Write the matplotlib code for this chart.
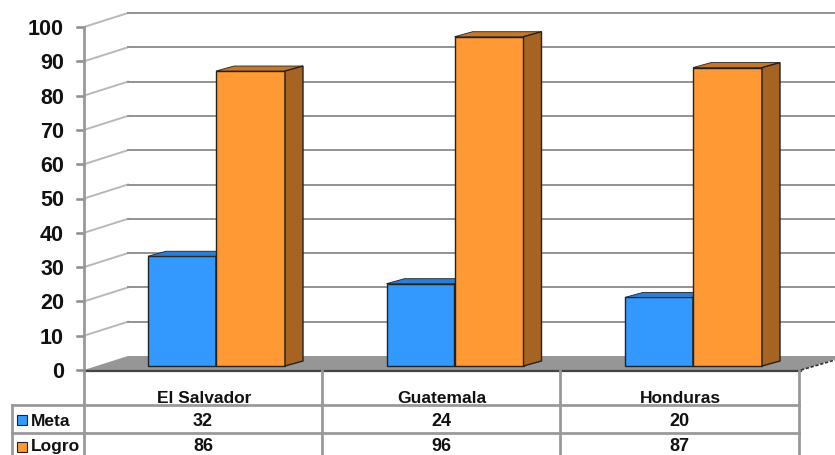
import matplotlib
matplotlib.use('Agg')
import matplotlib.pyplot as plt
from matplotlib.patches import Polygon, Rectangle

categories = ['El Salvador', 'Guatemala', 'Honduras']
meta = [32, 24, 20]
logro = [86, 96, 87]
ticks = [0, 10, 20, 30, 40, 50, 60, 70, 80, 90, 100]

plt.rcParams['font.family'] = ['Liberation Sans', 'DejaVu Sans']
plt.rcParams['font.weight'] = 'bold'

W, H = 835, 456
Y0, PX = 371, 3.43      # pixel of value 0, pixels per unit
BASE = 4 / PX           # bars stand a little behind the axis line
DX, DY = 18, 5 / PX     # depth of the bars
WX, WY = 44, 14 / PX    # depth of the walls
GREY = '#999999'
DARK = '#222222'
TEXT_DROP = 1.5 / PX    # text sits slightly lower than va=center gives

fig = plt.figure(figsize=(8.35, 4.56), dpi=100)
ax = fig.add_axes([0, 0, 1, 1])
ax.set_xlim(0, W)
ax.set_ylim((Y0 - H) / PX, Y0 / PX)
ax.axis('off')

# floor
ax.add_patch(Polygon([(84, 0), (84 + WX, WY), (845, WY), (801, 0)],
                     facecolor='#969696', edgecolor='none', zorder=1))
ax.plot([801, 835], [0, 10 / PX], color='#333333', lw=1.2, ls=(0, (2, 1)), zorder=1)

# walls
for t in ticks:
    if t > 0:
        ax.plot([84, 84 + WX], [t, t + WY], color='#b8b8b8', lw=1.4, zorder=1)
        ax.plot([84 + WX, W], [t + WY, t + WY], color='#939393', lw=1.4, zorder=1)
    ax.plot([77, 84], [t, t], color='#8c8c8c', lw=1.8, zorder=2)
    ax.text(64, t - TEXT_DROP, str(t), ha='right', va='center', fontsize=15.5, color='#111111')
ax.plot([84, 84], [0, 100], color=GREY, lw=2, zorder=2)


def bar3d(x, w, v, face, top, side, z):
    ax.bar(x, v, width=w, bottom=BASE, align='edge', color=face,
           edgecolor=DARK, linewidth=1, zorder=z)
    y1 = v + BASE
    ax.add_patch(Polygon([(x, y1), (x + DX, y1 + DY), (x + w + DX, y1 + DY), (x + w, y1)],
                         facecolor=top, edgecolor=DARK, lw=0.6, zorder=z))
    ax.add_patch(Polygon([(x + w, BASE), (x + w + DX, BASE + DY), (x + w + DX, y1 + DY), (x + w, y1)],
                         facecolor=side, edgecolor=DARK, lw=1, zorder=z))


col_left = [84, 322, 560]
col_w = 238
for i, cat in enumerate(categories):
    x0 = 148 + i * 238.5
    bar3d(x0, 68, meta[i], '#3399ff', '#2a7fd4', '#2a7fd4', 3)
    bar3d(x0 + 68, 69, logro[i], '#ff9933', '#c4782c', '#a66321', 4)


def py(p):
    # pixel row to value axis
    return (Y0 - p) / PX


# data table
ax.plot([84, 801], [py(372), py(372)], color='#444444', lw=1.6, zorder=2)
ax.plot([12, 799], [py(406), py(406)], color=GREY, lw=2, zorder=2)
ax.plot([12, 799], [py(434), py(434)], color=GREY, lw=2, zorder=2)
ax.plot([12, 12], [py(406), py(456)], color=GREY, lw=2, zorder=2)
for x in [84, 322, 560, 799]:
    ax.plot([x, x], [py(372), py(456)], color=GREY, lw=2, zorder=2)

rows = [('Meta', meta, '#3399ff', 421, 422), ('Logro', logro, '#ff9933', 448, 447)]
for name, vals, color, row, text_row in rows:
    ax.add_patch(Rectangle((17, py(row + 5)), 10, 10 / PX, facecolor=color,
                           edgecolor=DARK, lw=0.8, zorder=3))
    ax.text(31, py(text_row), name, ha='left', va='center', fontsize=12.5, color='#111111')
    for i, v in enumerate(vals):
        ax.text(col_left[i] + col_w / 2, py(text_row), str(v), ha='center', va='center',
                fontsize=13, color='#111111')
for i, cat in enumerate(categories):
    ax.text(col_left[i] + col_w / 2 + 1, py(399), cat, ha='center', va='center',
            fontsize=12.5, color='#111111')

fig.savefig('out.png', dpi=100)
